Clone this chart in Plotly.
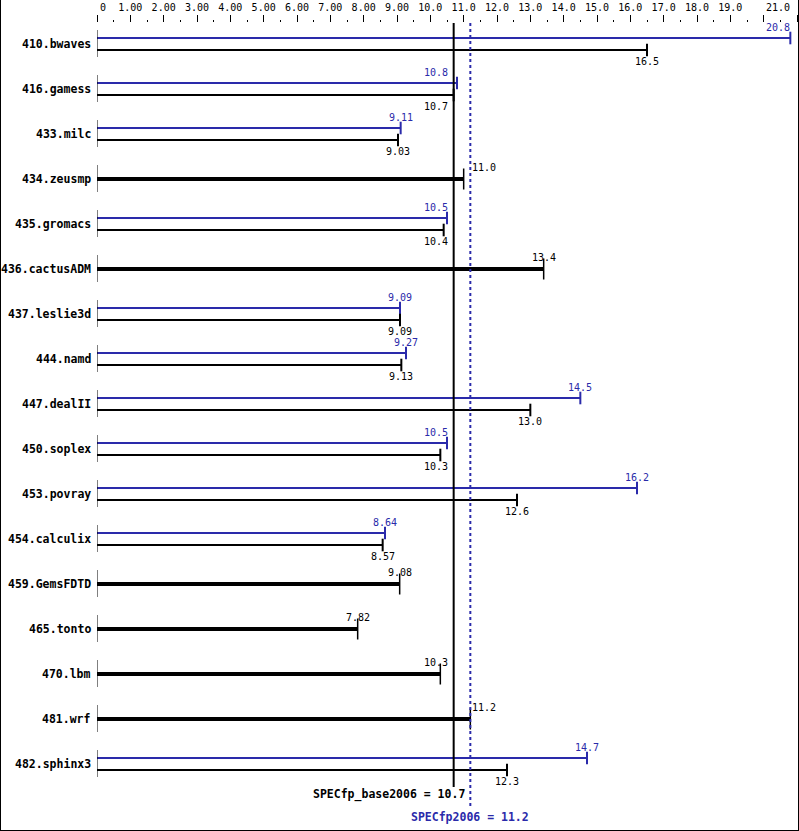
import plotly.graph_objects as go

benchmarks = [
    "410.bwaves", "416.gamess", "433.milc", "434.zeusmp", "435.gromacs",
    "436.cactusADM", "437.leslie3d", "444.namd", "447.dealII", "450.soplex",
    "453.povray", "454.calculix", "459.GemsFDTD", "465.tonto", "470.lbm",
    "481.wrf", "482.sphinx3",
]
peak = [20.8, 10.8, 9.11, None, 10.5, None, 9.09, 9.27, 14.5, 10.5,
        16.2, 8.64, None, None, None, None, 14.7]
base = [16.5, 10.7, 9.03, 11.0, 10.4, 13.4, 9.09, 9.13, 13.0, 10.3,
        12.6, 8.57, 9.08, 7.82, 10.3, 11.2, 12.3]
base_mean = 10.7
peak_mean = 11.2

tick_vals = list(range(22))
tick_text = [""] + [f"{v}.00" for v in range(1, 10)] + [f"{v}.0" for v in range(10, 20)] + ["", ""]

BLUE = "#2a2aaa"
FONT = "DejaVu Sans Mono"
ROW = 45.0  # pixels per benchmark row
W, H = 799, 831
ML, MR, MT, MB = 97, 2, 23, 0
XMAX = 21


def px(p):
    # pixel offset -> row units
    return p / ROW


def fmt(v):
    return f"{v:.1f}" if v >= 10 else f"{v:.2f}"


def label_pos(v):
    hw = 0.4
    if v + hw > XMAX:
        return v + 0.05, "right"
    if v + hw > 10.55 and v - hw < 11.35:
        if v < (base_mean + peak_mean) / 2:
            return 10.58, "right"
        return 11.2, "left"
    return v, "center"


fig = go.Figure()
annotations = []
shapes = []

thin_x, thin_y, thick_x, thick_y, blue_x, blue_y = [], [], [], [], [], []
end_thin, end_thick, end_blue = ([], []), ([], []), ([], [])

for i, name in enumerate(benchmarks):
    annotations.append(dict(x=0, y=i, text=f"<b>{name}</b>", xanchor="right", xshift=-4,
                            showarrow=False, font=dict(family=FONT, size=11.5, color="black")))
    shapes.append(dict(type="line", xref="x", yref="y", x0=0, x1=0, y0=i - px(14), y1=i + px(13),
                       line=dict(color="black", width=1)))
    p, b = peak[i], base[i]
    if p is not None:
        yb, yk = i - px(6), i + px(6)
        blue_x += [0, p, None]; blue_y += [yb, yb, None]
        end_blue[0].append(p); end_blue[1].append(yb)
        thin_x += [0, b, None]; thin_y += [yk, yk, None]
        end_thin[0].append(b); end_thin[1].append(yk)
        lx, la = label_pos(p)
        annotations.append(dict(x=lx, y=yb - px(10.5), text=fmt(p), xanchor=la, showarrow=False,
                                font=dict(family=FONT, size=10, color=BLUE)))
        lx, la = label_pos(b)
        annotations.append(dict(x=lx, y=yk + px(11.5), text=fmt(b), xanchor=la, showarrow=False,
                                font=dict(family=FONT, size=10, color="black")))
    else:
        thick_x += [0, b, None]; thick_y += [i, i, None]
        end_thick[0].append(b); end_thick[1].append(i)
        lx, la = label_pos(b)
        annotations.append(dict(x=lx, y=i - px(12), text=fmt(b), xanchor=la, showarrow=False,
                                font=dict(family=FONT, size=10, color="black")))

fig.add_trace(go.Scatter(x=blue_x, y=blue_y, mode="lines", line=dict(color=BLUE, width=2)))
fig.add_trace(go.Scatter(x=thin_x, y=thin_y, mode="lines", line=dict(color="black", width=2)))
fig.add_trace(go.Scatter(x=thick_x, y=thick_y, mode="lines", line=dict(color="black", width=4)))
fig.add_trace(go.Scatter(x=end_blue[0], y=end_blue[1], mode="markers",
                         marker=dict(symbol="line-ns", size=9, line=dict(color=BLUE, width=2))))
fig.add_trace(go.Scatter(x=end_thin[0], y=end_thin[1], mode="markers",
                         marker=dict(symbol="line-ns", size=9, line=dict(color="black", width=2))))
fig.add_trace(go.Scatter(x=end_thick[0], y=end_thick[1], mode="markers",
                         marker=dict(symbol="line-ns", size=15, line=dict(color="black", width=1.5))))

n = len(benchmarks)
y_top = -px(44 - MT)
y_bot = (H - MB - 44) / ROW

# mean lines
shapes.append(dict(type="line", xref="x", yref="y", x0=base_mean, x1=base_mean,
                   y0=y_top, y1=n - 1 + px(23), line=dict(color="black", width=2)))
shapes.append(dict(type="line", xref="x", yref="y", x0=peak_mean, x1=peak_mean,
                   y0=y_top, y1=n - 1 + px(44), line=dict(color=BLUE, width=2, dash="dot")))
annotations.append(dict(x=base_mean, y=n - 1 + px(30), text=f"<b>SPECfp_base2006 = {base_mean}</b>",
                        xanchor="right", xshift=13, showarrow=False,
                        font=dict(family=FONT, size=11.5, color="black")))
annotations.append(dict(x=peak_mean, y=n - 1 + px(53), text=f"<b>SPECfp2006 = {peak_mean}</b>",
                        xanchor="center", showarrow=False,
                        font=dict(family=FONT, size=11.5, color=BLUE)))

# edge tick labels
annotations.append(dict(x=0, y=1, xref="x", yref="paper", yanchor="bottom", yshift=8, text="0",
                        xanchor="left", xshift=1, showarrow=False,
                        font=dict(family=FONT, size=10, color="black")))
annotations.append(dict(x=XMAX, y=1, xref="x", yref="paper", yanchor="bottom", yshift=8, text="21.0",
                        xanchor="right", xshift=-5, showarrow=False,
                        font=dict(family=FONT, size=10, color="black")))

# frame (left, right, bottom)
pw, ph = W - ML - MR, H - MT - MB
fx = lambda p: (p - ML) / pw
fy = lambda p: 1 - (p - MT) / ph
for x0, y0, x1, y1 in [(0.5, 0, 0.5, H - 0.5), (W - 0.5, 0, W - 0.5, H - 0.5), (0, H - 0.5, W, H - 0.5)]:
    shapes.append(dict(type="line", xref="paper", yref="paper", x0=fx(x0), x1=fx(x1), y0=fy(y0), y1=fy(y1),
                       line=dict(color="black", width=1)))

fig.update_traces(hoverinfo="skip", showlegend=False, cliponaxis=False)
fig.update_layout(
    width=W, height=H,
    margin=dict(l=ML, r=MR, t=MT, b=MB, pad=0),
    paper_bgcolor="white", plot_bgcolor="white",
    annotations=annotations, shapes=shapes,
    xaxis=dict(range=[0, XMAX], side="top", tickvals=tick_vals, ticktext=tick_text,
               ticks="outside", ticklen=7, tickwidth=1, tickcolor="black",
               tickfont=dict(family=FONT, size=10, color="black"),
               minor=dict(dtick=0.5, ticks="outside", ticklen=2, tickwidth=1, tickcolor="black", showgrid=False),
               showgrid=False, zeroline=False, showline=False, fixedrange=True),
    yaxis=dict(range=[y_bot, y_top], visible=False, showgrid=False, zeroline=False, fixedrange=True),
)

fig.write_html("out.html", config={"displayModeBar": False},
               post_script="document.body.style.margin='0';document.body.style.overflow='hidden';")
